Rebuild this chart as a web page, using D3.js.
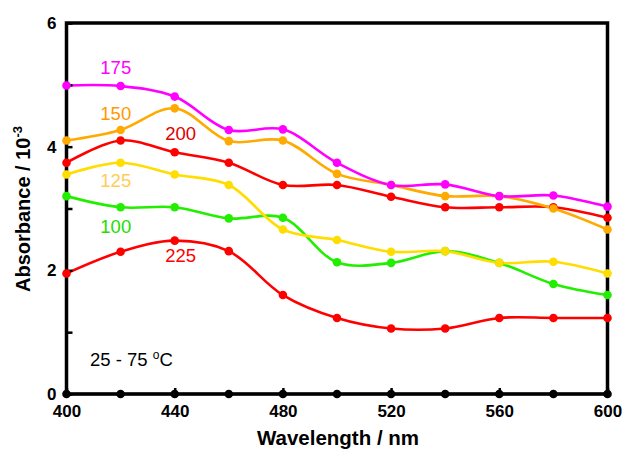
<!DOCTYPE html>
<html><head><meta charset="utf-8">
<script src="https://cdn.jsdelivr.net/npm/d3@7"></script>
<style>body{margin:0;background:#fff}svg{display:block}</style>
</head><body>
<svg id="c" width="624" height="450"></svg>
<script>
const wavelengths = [400,420,440,460,480,500,520,540,560,580,600];
const s175 = [4.99,4.98,4.81,4.27,4.28,3.74,3.38,3.39,3.20,3.21,3.03];
const s150 = [4.10,4.27,4.62,4.09,4.10,3.56,3.38,3.20,3.20,3.00,2.66];
const s200 = [3.74,4.10,3.91,3.74,3.38,3.38,3.19,3.02,3.02,3.02,2.85];
const s125 = [3.55,3.74,3.55,3.38,2.66,2.49,2.30,2.31,2.12,2.14,1.95];
const s100 = [3.20,3.02,3.02,2.84,2.85,2.13,2.12,2.31,2.12,1.78,1.60];
const s225 = [1.95,2.30,2.48,2.31,1.60,1.23,1.06,1.06,1.23,1.23,1.23];
const s25_75 = [0,0,0,0,0,0,0,0,0,0,0];
const xTicks = [400,440,480,520,560,600];
const yTicks = [0,2,4,6];
const yMinor = [1,3,5];

const series = [
  {name:"25 - 75", values:s25_75, color:"#000000"},
  {name:"225", values:s225, color:"#FF0000"},
  {name:"100", values:s100, color:"#22EE00"},
  {name:"125", values:s125, color:"#FFDD00"},
  {name:"200", values:s200, color:"#FF0000"},
  {name:"150", values:s150, color:"#FFAA00"},
  {name:"175", values:s175, color:"#FF00FF"}
];
const labels = [
  {text:"175", wl:412.5, v:5.18, color:"#FF00FF"},
  {text:"150", wl:412.5, v:4.43, color:"#FF9900"},
  {text:"200", wl:436.5, v:4.11, color:"#DD0000"},
  {text:"125", wl:412.5, v:3.35, color:"#FFCC55"},
  {text:"100", wl:412.5, v:2.6, color:"#22DD00"},
  {text:"225", wl:436.5, v:2.14, color:"#FF0000"}
];

const svg = d3.select("#c");
const x = d3.scaleLinear().domain([400,600]).range([66.5,607.5]);
const y = d3.scaleLinear().domain([0,6]).range([394,23]);
const font = "'Liberation Sans', Arial, Helvetica, sans-serif";

// lines
const line = d3.line().x((d,i)=>x(wavelengths[i])).y(d=>y(d)).curve(d3.curveCatmullRom);
series.forEach(s=>{
  svg.append("path").attr("d", line(s.values)).attr("fill","none")
    .attr("stroke", s.color).attr("stroke-width",2.6);
});

// frame
svg.append("rect").attr("x",x(400)).attr("y",y(6)).attr("width",x(600)-x(400)).attr("height",y(0)-y(6))
  .attr("fill","none").attr("stroke","#000").attr("stroke-width",3.5);

// axes (ticks inward)
const gx = svg.append("g").attr("transform",`translate(0,${y(0)})`)
  .call(d3.axisBottom(x).tickValues(xTicks).tickSize(-6).tickPadding(11).tickFormat(d3.format("d")));
const gy = svg.append("g").attr("transform",`translate(${x(400)},0)`)
  .call(d3.axisLeft(y).tickValues(yTicks).tickSize(-6).tickPadding(10).tickFormat(d3.format("d")));
svg.append("g").attr("transform",`translate(${x(400)},0)`)
  .call(d3.axisLeft(y).tickValues(yMinor).tickSize(-6).tickFormat(""))
  .call(g=>g.select(".domain").remove());
[gx,gy].forEach(g=>{
  g.select(".domain").remove();
  g.selectAll("text").attr("font-family",font).attr("font-weight","bold").attr("font-size",17).attr("fill","#000");
});
svg.selectAll("g line").attr("stroke","#000").attr("stroke-width",2.5);

// markers
series.forEach(s=>{
  svg.append("g").selectAll("circle").data(s.values).join("circle")
    .attr("cx",(d,i)=>x(wavelengths[i])).attr("cy",d=>y(d)).attr("r",4.3).attr("fill",s.color);
});

// series labels
labels.forEach(l=>{
  svg.append("text").attr("x",x(l.wl)).attr("y",y(l.v)).attr("font-family",font)
    .attr("font-size",18.5).attr("fill",l.color).text(l.text);
});
const t = svg.append("text").attr("x",90).attr("y",366).attr("font-family",font).attr("font-size",18.5).attr("fill","#000");
t.append("tspan").text("25 - 75 ");
t.append("tspan").attr("font-size",12).attr("dy",-7).text("o");
t.append("tspan").attr("dy",7).text("C");

// axis titles
svg.append("text").attr("x",(x(400)+x(600))/2+1).attr("y",445).attr("text-anchor","middle")
  .attr("font-family",font).attr("font-weight","bold").attr("font-size",20.5).text("Wavelength / nm");
const yt = svg.append("text").attr("transform","translate(30,209) rotate(-90)").attr("text-anchor","middle")
  .attr("font-family",font).attr("font-weight","bold").attr("font-size",20);
yt.append("tspan").text("Absorbance / 10");
yt.append("tspan").attr("font-size",13).attr("dy",-8).text("-3");
</script>
</body></html>
